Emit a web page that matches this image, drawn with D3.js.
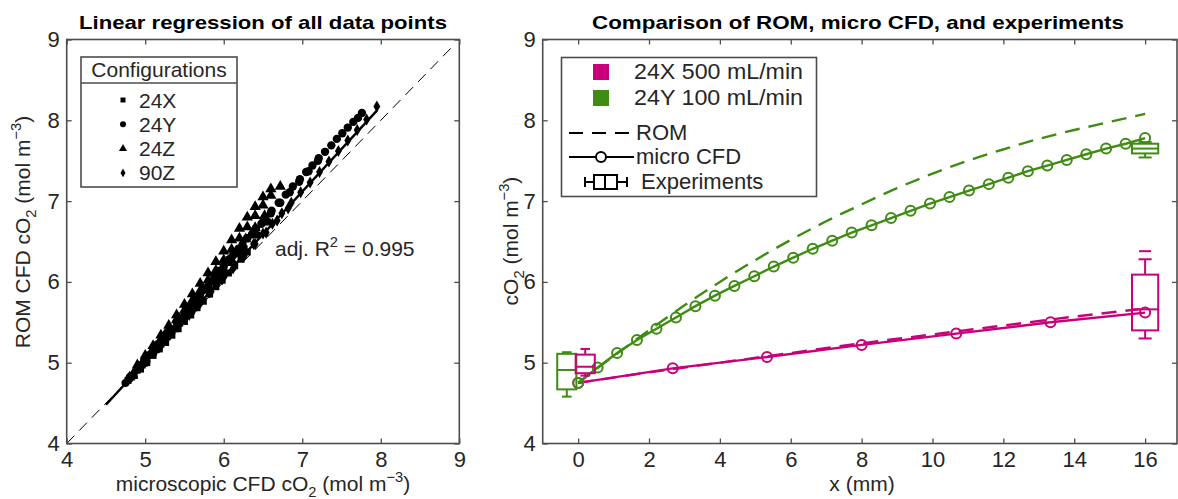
<!DOCTYPE html>
<html>
<head>
<meta charset="utf-8">
<script src="https://cdn.jsdelivr.net/npm/d3@7"></script>
<style>
  body { margin: 0; background: #fff; }
  svg { font-family: "Liberation Sans", Arial, sans-serif; }
</style>
</head>
<body>
<svg width="1178" height="499"></svg>
<script>
// ---- left panel data: (microscopic CFD, ROM CFD) pairs per configuration
const configs = ['24X', '24Y', '24Z', '90Z'];

const micro24X = [4.78,4.84,4.90,4.96,5.02,5.08,5.14,5.20,5.26,5.32,5.38,5.44,5.50,5.56,5.62,
  4.80,4.90,5.00,5.10,5.20,5.30,5.40,5.50,5.60,5.70,5.80,5.90,6.00,6.10,6.20,
  4.82,4.98,5.14,5.30,5.46,5.62,5.78,5.94,6.10,6.26,6.42,6.56,
  4.86,4.94,5.02,5.10,5.18,5.26,5.34,5.42,5.50,5.58,5.66,5.74,5.82,5.90,5.98,6.06,6.14,6.22,6.30];
const rom24X = [4.78,4.84,4.91,4.97,5.03,5.10,5.16,5.23,5.29,5.36,5.42,5.49,5.55,5.62,5.68,
  4.81,4.92,5.03,5.14,5.25,5.36,5.47,5.58,5.69,5.80,5.91,6.02,6.13,6.24,6.35,
  4.83,5.00,5.18,5.36,5.54,5.72,5.90,6.07,6.24,6.41,6.58,6.74,
  4.84,4.92,5.00,5.09,5.17,5.25,5.34,5.42,5.51,5.59,5.68,5.76,5.85,5.94,6.02,6.11,6.20,6.28,6.37];

const micro24Y = [4.75,4.94,5.12,5.28,5.42,5.56,5.70,5.83,5.95,6.07,6.19,6.30,6.41,6.51,6.61,
  6.70,6.79,6.88,6.97,7.05,7.13,7.21,7.29,7.37,7.44,7.51,7.58,7.65,7.71,7.76,
  4.80,4.92,5.04,5.16,5.28,5.40,5.52,5.64,5.76,5.88,6.00,6.12,6.24,6.36,6.48,6.60,6.72,6.84,6.96,7.08,7.20];
const rom24Y = [4.75,4.97,5.18,5.37,5.53,5.69,5.85,6.00,6.14,6.28,6.41,6.54,6.66,6.77,6.88,
  6.98,7.08,7.18,7.27,7.36,7.44,7.53,7.61,7.69,7.77,7.84,7.91,7.98,8.03,8.09,
  4.81,4.95,5.09,5.23,5.37,5.51,5.65,5.78,5.92,6.06,6.19,6.33,6.46,6.59,6.72,6.85,6.98,7.11,7.24,7.37,7.50];

const micro24Z = [4.80,4.90,5.00,5.10,5.20,5.30,5.40,5.50,5.60,5.70,5.80,5.90,6.00,6.10,6.20,6.30,6.40,6.50,6.60,6.72,
  4.84,4.96,5.08,5.20,5.32,5.44,5.56,5.68,5.80,5.92,6.04,6.16,6.28,6.40,6.52,
  4.90,5.00,5.10,5.20,5.30,5.40,5.50,5.60,5.70,5.80,5.90,6.00,6.10,6.20,6.30,6.40,6.50,6.60];
const rom24Z = [4.82,4.93,5.05,5.17,5.29,5.41,5.53,5.65,5.77,5.89,6.02,6.14,6.27,6.40,6.54,6.68,6.82,6.95,7.07,7.18,
  4.85,4.99,5.12,5.26,5.40,5.54,5.68,5.82,5.96,6.10,6.24,6.38,6.53,6.67,6.82,
  4.97,5.09,5.21,5.34,5.46,5.59,5.72,5.85,5.98,6.11,6.25,6.38,6.52,6.66,6.80,6.93,7.05,7.15];

const micro90Z = [4.82,4.92,5.02,5.12,5.22,5.32,5.42,5.52,5.62,5.72,5.82,5.92,6.02,6.14,6.26,6.38,6.50,
  6.62,6.74,6.86,6.98,7.10,7.22,7.34,7.46,7.58,7.70,7.82,7.95,
  4.86,5.00,5.14,5.28,5.42,5.56,5.70,5.84,5.98,6.12,6.26,6.40,6.54,6.68,6.82];
const rom90Z = [4.82,4.93,5.03,5.14,5.24,5.35,5.45,5.56,5.66,5.77,5.87,5.98,6.09,6.21,6.34,6.47,6.60,
  6.72,6.85,6.98,7.11,7.23,7.36,7.49,7.62,7.75,7.88,8.01,8.17,
  4.87,5.01,5.16,5.30,5.45,5.59,5.74,5.88,6.03,6.17,6.32,6.47,6.61,6.76,6.91];

const fitX = [4.5, 7.95];
const fitY = [4.48, 8.12];
const identityX = [4, 8.9];

// ---- right panel data
const seriesNames = ['24X 500 mL/min', '24Y 100 mL/min'];

const cfdX24X = [0, 2.67, 5.33, 8, 10.67, 13.33, 16];
const cfdY24X = [4.75, 4.93, 5.07, 5.22, 5.36, 5.50, 5.62];
const romX24X = [0, 2, 4, 6, 8, 10, 12, 14, 16];
const romY24X = [4.75, 4.88, 5.00, 5.12, 5.24, 5.35, 5.46, 5.57, 5.67];

const cfdX24Y = [0, 0.55, 1.10, 1.66, 2.21, 2.76, 3.31, 3.86, 4.41, 4.97, 5.52, 6.07, 6.62, 7.17, 7.72,
  8.28, 8.83, 9.38, 9.93, 10.48, 11.03, 11.59, 12.14, 12.69, 13.24, 13.79, 14.34, 14.90, 15.45, 16.00];
const cfdY24Y = [4.75,4.94,5.12,5.28,5.42,5.56,5.70,5.83,5.95,6.07,6.19,6.30,6.41,6.51,6.61,
  6.70,6.79,6.88,6.97,7.05,7.13,7.21,7.29,7.37,7.44,7.51,7.58,7.65,7.71,7.78];
const romX24Y = [0,1,2,3,4,5,6,7,8,9,10,11,12,13,14,15,16];
const romY24Y = [4.75,5.08,5.40,5.71,6.00,6.27,6.52,6.75,6.96,7.16,7.34,7.50,7.64,7.77,7.88,7.98,8.08];

// experiments: [position, lower whisker, q1, median, q3, upper whisker]
const exp24X = [[0.2, 4.84, 4.87, 4.95, 5.10, 5.17], [16, 5.30, 5.40, 5.66, 6.09, 6.28]];
const exp24XOutliers = [[16, 6.38]];
const exp24Y = [[-0.32, 4.58, 4.67, 4.91, 5.11, 5.13], [16, 7.54, 7.59, 7.65, 7.71, 7.73]];

const xTicksL = [4, 5, 6, 7, 8, 9];
const yTicks = [4, 5, 6, 7, 8, 9];
const xTicksR = [0, 2, 4, 6, 8, 10, 12, 14, 16];

// ---- drawing
const svg = d3.select('svg');
const axisColor = '#4d4d4d';
const textColor = '#262626';
const pink = '#c8007a';
const green = '#3f8c13';
const fs = 21;

const xL = d3.scaleLinear().domain([4, 9]).range([66.7, 459.3]);
const yL = d3.scaleLinear().domain([4, 9]).range([443.5, 39.5]);
const xR = d3.scaleLinear().domain([-1, 16.9]).range([542.7, 1177]);
const yR = d3.scaleLinear().domain([4, 9]).range([443.5, 39.5]);

// text with sub/superscript parts
const rich = (sel, parts, size) => {
  let shift = 0;
  parts.forEach(([t, k]) => {
    const target = k === 'sub' ? 0.3 * size : k === 'sup' ? -0.42 * size : 0;
    const ts = sel.append('tspan').attr('dy', target - shift).text(t);
    if (k) ts.attr('font-size', size * 0.7);
    shift = target;
  });
};

const frame = (x, y, xt, yt) => {
  const g = svg.append('g');
  const [x0, x1] = x.range();
  const [y1, y0] = y.range();
  g.append('g').attr('transform', `translate(0,${y1})`)
    .call(d3.axisBottom(x).tickValues(xt).tickSize(-5).tickPadding(8).tickFormat(d3.format('d')));
  g.append('g').attr('transform', `translate(0,${y0})`)
    .call(d3.axisTop(x).tickValues(xt).tickSize(-5).tickFormat(''));
  g.append('g').attr('transform', `translate(${x0},0)`)
    .call(d3.axisLeft(y).tickValues(yt).tickSize(-5).tickPadding(7).tickFormat(d3.format('d')));
  g.append('g').attr('transform', `translate(${x1},0)`)
    .call(d3.axisRight(y).tickValues(yt).tickSize(-5).tickFormat(''));
  g.selectAll('.domain').remove();
  g.selectAll('g').attr('font-family', null).attr('font-size', 22);
  g.selectAll('.tick line').attr('stroke', axisColor).attr('stroke-width', 1.3);
  g.selectAll('.tick text').attr('fill', textColor);
  g.append('rect')
    .attr('x', x0).attr('y', y0)
    .attr('width', x1 - x0).attr('height', y1 - y0)
    .attr('fill', 'none').attr('stroke', axisColor).attr('stroke-width', 1.6);
};

// ===== left panel
const symbols = {
  '24X': d3.symbol(d3.symbolSquare, 48),
  '24Y': d3.symbol(d3.symbolCircle, 55),
  '24Z': d3.symbol(d3.symbolTriangle, 55),
  '90Z': d3.symbol(d3.symbolDiamond, 42)
};
const scatter = {
  '24X': [micro24X, rom24X],
  '24Y': [micro24Y, rom24Y],
  '24Z': [micro24Z, rom24Z],
  '90Z': [micro90Z, rom90Z]
};

const lineL = d3.line().x(d => xL(d[0])).y(d => yL(d[1]));

svg.append('path')
  .attr('d', lineL(identityX.map(v => [v, v])))
  .attr('fill', 'none').attr('stroke', '#000').attr('stroke-width', 1)
  .attr('stroke-dasharray', '11,7');

configs.forEach(c => {
  const [mx, ry] = scatter[c];
  svg.append('g').selectAll('path').data(mx.map((v, i) => [v, ry[i]]))
    .join('path')
      .attr('d', symbols[c])
      .attr('transform', d => `translate(${xL(d[0])},${yL(d[1])})`)
      .attr('fill', '#000');
});

svg.append('path')
  .attr('d', lineL(fitX.map((v, i) => [v, fitY[i]])))
  .attr('fill', 'none').attr('stroke', '#000').attr('stroke-width', 2.4);

svg.append('text').attr('x', 275).attr('y', 256)
  .attr('font-size', fs).attr('fill', textColor)
  .call(rich, [['adj. R', ''], ['2', 'sup'], [' = 0.995', '']], fs);

// left legend
const legL = svg.append('g');
legL.append('rect').attr('x', 81).attr('y', 57).attr('width', 156).attr('height', 130)
  .attr('fill', '#fff').attr('stroke', axisColor).attr('stroke-width', 1.6);
legL.append('line').attr('x1', 81).attr('x2', 237).attr('y1', 83).attr('y2', 83)
  .attr('stroke', axisColor).attr('stroke-width', 1.3);
legL.append('text').attr('x', 159).attr('y', 77).attr('text-anchor', 'middle')
  .attr('font-size', fs).attr('fill', textColor).text('Configurations');
configs.forEach((c, i) => {
  const cy = 100 + i * 24.3;
  legL.append('path').attr('d', symbols[c]).attr('transform', `translate(123,${cy}) scale(0.72)`).attr('fill', '#000');
  legL.append('text').attr('x', 139).attr('y', cy + 7.5).attr('font-size', fs).attr('fill', textColor).text(c);
});

frame(xL, yL, xTicksL, yTicks);

svg.append('text').attr('x', 263).attr('y', 29).attr('text-anchor', 'middle')
  .attr('font-size', 19).attr('font-weight', 'bold').attr('fill', '#000')
  .attr('textLength', 368).attr('lengthAdjust', 'spacingAndGlyphs')
  .text('Linear regression of all data points');

svg.append('text').attr('x', 263).attr('y', 491).attr('text-anchor', 'middle')
  .attr('font-size', fs).attr('fill', textColor)
  .call(rich, [['microscopic CFD cO', ''], ['2', 'sub'], [' (mol m', ''], ['\u22123', 'sup'], [')', '']], fs);

svg.append('text').attr('transform', 'translate(30,232) rotate(-90)').attr('text-anchor', 'middle')
  .attr('font-size', fs).attr('fill', textColor)
  .call(rich, [['ROM CFD cO', ''], ['2', 'sub'], [' (mol m', ''], ['\u22123', 'sup'], [')', '']], fs);

// ===== right panel
const lineR = d3.line().x(d => xR(d[0])).y(d => yR(d[1]));
const zip = (a, b) => a.map((v, i) => [v, b[i]]);

const drawSeries = (color, romX, romY, cfdX, cfdY) => {
  svg.append('path')
    .attr('d', lineR.curve(d3.curveMonotoneX)(zip(romX, romY)))
    .attr('fill', 'none').attr('stroke', color).attr('stroke-width', 2.4)
    .attr('stroke-dasharray', '15,9');
  svg.append('path')
    .attr('d', lineR.curve(d3.curveLinear)(zip(cfdX, cfdY)))
    .attr('fill', 'none').attr('stroke', color).attr('stroke-width', 2.4);
  svg.append('g').selectAll('circle').data(zip(cfdX, cfdY)).join('circle')
    .attr('cx', d => xR(d[0])).attr('cy', d => yR(d[1])).attr('r', 5)
    .attr('fill', 'none').attr('stroke', color).attr('stroke-width', 2);
};

drawSeries(pink, romX24X, romY24X, cfdX24X, cfdY24X);
drawSeries(green, romX24Y, romY24Y, cfdX24Y, cfdY24Y);

const drawBoxes = (color, rows, outliers) => {
  const g = svg.append('g').attr('fill', 'none').attr('stroke', color).attr('stroke-width', 2);
  rows.forEach(([pos, lo, q1, med, q3, hi]) => {
    const half = pos > 8 ? 0.37 : 0.27;
    const cx = xR(pos), xa = xR(pos - half), xb = xR(pos + half);
    const capHalf = (xb - xa) * 0.25;
    g.append('rect').attr('x', xa).attr('y', yR(q3)).attr('width', xb - xa).attr('height', yR(q1) - yR(q3));
    g.append('line').attr('x1', xa).attr('x2', xb).attr('y1', yR(med)).attr('y2', yR(med));
    g.append('line').attr('x1', cx).attr('x2', cx).attr('y1', yR(q3)).attr('y2', yR(hi));
    g.append('line').attr('x1', cx).attr('x2', cx).attr('y1', yR(q1)).attr('y2', yR(lo));
    [hi, lo].forEach(v => g.append('line').attr('x1', cx - capHalf).attr('x2', cx + capHalf).attr('y1', yR(v)).attr('y2', yR(v)));
  });
  (outliers || []).forEach(([pos, v]) => {
    g.append('line').attr('x1', xR(pos) - 6).attr('x2', xR(pos) + 6).attr('y1', yR(v)).attr('y2', yR(v));
  });
};

drawBoxes(green, exp24Y);
drawBoxes(pink, exp24X, exp24XOutliers);

// right legend
const legR = svg.append('g');
legR.append('rect').attr('x', 561.5).attr('y', 57.5).attr('width', 255).attr('height', 139)
  .attr('fill', '#fff').attr('stroke', axisColor).attr('stroke-width', 1.6);
[pink, green].forEach((c, i) => {
  legR.append('rect').attr('x', 593).attr('y', 64 + i * 26).attr('width', 16).attr('height', 16).attr('fill', c);
  legR.append('text').attr('x', 634).attr('y', 79 + i * 26).attr('font-size', 22).attr('fill', textColor)
    .attr('textLength', 169).attr('lengthAdjust', 'spacingAndGlyphs').text(seriesNames[i]);
});
legR.append('line').attr('x1', 569).attr('x2', 634).attr('y1', 133).attr('y2', 133)
  .attr('stroke', '#000').attr('stroke-width', 2.2).attr('stroke-dasharray', '14,9');
legR.append('text').attr('x', 636).attr('y', 140).attr('font-size', 22).attr('fill', textColor).text('ROM');
legR.append('line').attr('x1', 569).attr('x2', 634).attr('y1', 157).attr('y2', 157)
  .attr('stroke', '#000').attr('stroke-width', 2.2);
legR.append('circle').attr('cx', 601).attr('cy', 157).attr('r', 5)
  .attr('fill', '#fff').attr('stroke', '#000').attr('stroke-width', 2);
legR.append('text').attr('x', 636).attr('y', 164).attr('font-size', 22).attr('fill', textColor).text('micro CFD');
const icon = legR.append('g').attr('fill', 'none').attr('stroke', '#000').attr('stroke-width', 2);
icon.append('line').attr('x1', 585).attr('x2', 627).attr('y1', 182).attr('y2', 182);
icon.append('line').attr('x1', 585).attr('x2', 585).attr('y1', 177).attr('y2', 187);
icon.append('line').attr('x1', 627).attr('x2', 627).attr('y1', 177).attr('y2', 187);
icon.append('rect').attr('x', 594).attr('y', 175).attr('width', 23).attr('height', 14).attr('fill', '#fff');
icon.append('line').attr('x1', 605).attr('x2', 605).attr('y1', 175).attr('y2', 189);
legR.append('text').attr('x', 641).attr('y', 189).attr('font-size', 22).attr('fill', textColor).text('Experiments');

frame(xR, yR, xTicksR, yTicks);

svg.append('text').attr('x', 858).attr('y', 29).attr('text-anchor', 'middle')
  .attr('font-size', 19).attr('font-weight', 'bold').attr('fill', '#000')
  .attr('textLength', 532).attr('lengthAdjust', 'spacingAndGlyphs')
  .text('Comparison of ROM, micro CFD, and experiments');

svg.append('text').attr('x', 862).attr('y', 491).attr('text-anchor', 'middle')
  .attr('font-size', fs).attr('fill', textColor).text('x (mm)');

svg.append('text').attr('transform', 'translate(518,241) rotate(-90)').attr('text-anchor', 'middle')
  .attr('font-size', fs).attr('fill', textColor)
  .call(rich, [['cO', ''], ['2', 'sub'], [' (mol m', ''], ['\u22123', 'sup'], [')', '']], fs);
</script>
</body>
</html>
